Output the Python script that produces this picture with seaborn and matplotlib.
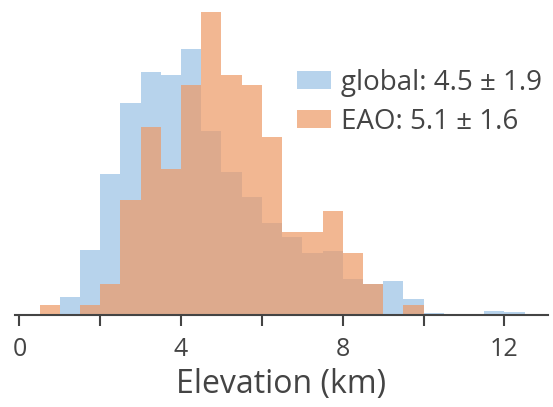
"""Elevation histogram: global vs EAO."""
import matplotlib
matplotlib.use("Agg")
import matplotlib.pyplot as plt
import numpy as np
import seaborn as sns

sns.set_theme(style="white")
plt.rcParams["font.family"] = ["Open Sans", "DejaVu Sans"]

# bin left edges, 0.5 km wide (heights, arbitrary units)
bin_left = [0.5, 1.0, 1.5, 2.0, 2.5, 3.0, 3.5, 4.0, 4.5, 5.0, 5.5, 6.0,
            6.5, 7.0, 7.5, 8.0, 8.5, 9.0, 9.5, 10.0, 10.5, 11.0, 11.5, 12.0]
global_h = [0, 18, 65, 141, 212, 243, 240, 266, 184, 143, 118, 92,
            78, 62, 64, 36, 31, 34, 16, 2, 0, 0, 4, 3]
eao_h = [10, 0, 10, 31, 115, 188, 146, 230, 303, 240, 230, 178,
         83, 83, 104, 62, 31, 0, 10, 0, 0, 0, 0, 0]
labels = ["global: 4.5 \u00b1 1.9", "EAO: 5.1 \u00b1 1.6"]

BLUE = "#b7d3ec"
ORANGE = "#ed9b68"
TEXT = "#444444"

centers = np.array(bin_left) + 0.25

fig = plt.figure(figsize=(5.53, 4.07), dpi=100)
ax = fig.add_axes([15 / 553, 92 / 407, 533 / 553, 305 / 407])

sns.histplot(x=centers, weights=global_h, binwidth=0.5, binrange=(0.5, 12.5),
             element="bars", color=BLUE, alpha=1.0, linewidth=0, ax=ax,
             label=labels[0])
sns.histplot(x=centers, weights=eao_h, binwidth=0.5, binrange=(0.5, 12.5),
             element="bars", color=ORANGE, alpha=0.72, linewidth=0, ax=ax,
             label=labels[1])

ax.set_xlim(-0.11, 13.08)
ax.set_ylim(0, 305)
ax.set_yticks([])
ax.set_ylabel("")
for side in ["top", "right", "left"]:
    ax.spines[side].set_visible(False)
ax.spines["bottom"].set_color(TEXT)
ax.spines["bottom"].set_linewidth(1.5)
ax.set_xticks([0, 2, 4, 6, 8, 10, 12])
ax.set_xticklabels(["0", "", "4", "", "8", "", "12"])
ax.tick_params(axis="x", direction="out", length=8, width=1.5, color=TEXT,
               labelsize=18, labelcolor=TEXT, pad=8, bottom=True)
ax.set_xlabel("Elevation (km)", fontsize=23, color=TEXT, labelpad=4)

leg = fig.legend(*ax.get_legend_handles_labels(), loc="upper left",
                 bbox_to_anchor=(297 / 553, 0.83), frameon=False,
                 fontsize=20, handlelength=1.22, handleheight=0.61,
                 handletextpad=0.35, labelspacing=0.38, borderaxespad=0,
                 borderpad=0)
for t in leg.get_texts():
    t.set_color(TEXT)

fig.savefig("out.png", dpi=100)
